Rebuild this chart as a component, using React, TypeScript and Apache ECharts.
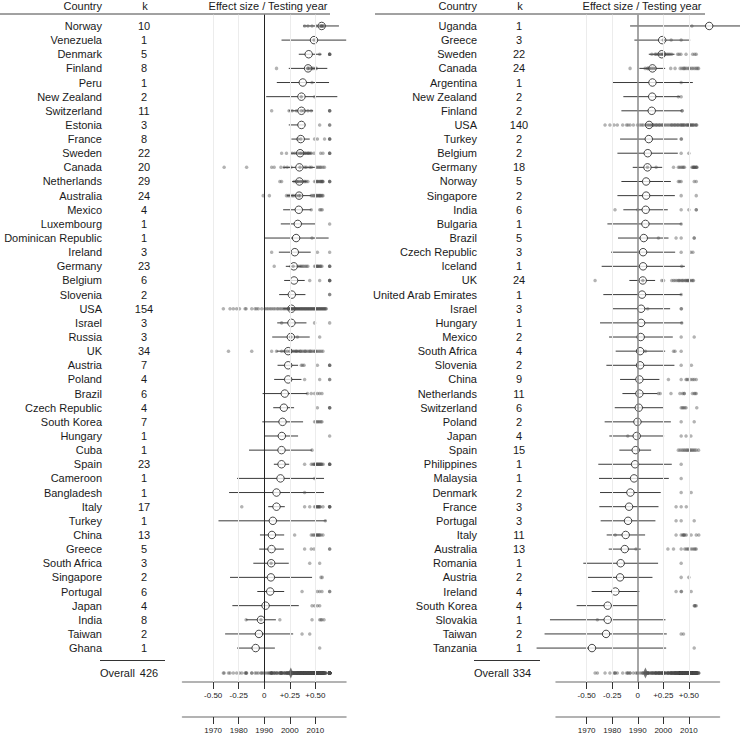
import React, { useEffect, useRef } from "react";
import * as echarts from "echarts";

const FONT = '"Liberation Sans", Arial, Helvetica, sans-serif';

// ---------- LEFT PANEL ----------
const leftCountries = ["Norway","Venezuela","Denmark","Finland","Peru","New Zealand","Switzerland","Estonia","France","Sweden","Canada","Netherlands","Australia","Mexico","Luxembourg","Dominican Republic","Ireland","Germany","Belgium","Slovenia","USA","Israel","Russia","UK","Austria","Poland","Brazil","Czech Republic","South Korea","Hungary","Cuba","Spain","Cameroon","Bangladesh","Italy","Turkey","China","Greece","South Africa","Singapore","Portugal","Japan","India","Taiwan","Ghana"];
const leftK = [10,1,5,8,1,2,11,3,8,22,20,29,24,4,1,1,3,23,6,2,154,3,3,34,7,4,6,4,7,1,1,23,1,1,17,1,13,5,3,2,6,4,8,2,1];
const leftEst = [0.562,0.487,0.435,0.429,0.377,0.364,0.364,0.364,0.357,0.351,0.344,0.344,0.341,0.338,0.328,0.312,0.299,0.289,0.292,0.27,0.266,0.266,0.26,0.234,0.234,0.234,0.201,0.192,0.179,0.172,0.169,0.169,0.159,0.12,0.12,0.084,0.075,0.071,0.068,0.065,0.058,0.013,-0.032,-0.052,-0.084];
const leftLo = [0.38,0.169,0.338,0.24,0.123,0.019,0.24,0.24,0.266,0.26,0.185,0.273,0.221,0.185,0.162,0.0,0.143,0.211,0.195,0.146,0.185,0.127,0.078,0.12,0.13,0.097,-0.016,0.088,-0.019,0.006,-0.149,0.094,-0.266,-0.344,0.039,-0.448,-0.042,-0.049,-0.107,-0.335,-0.068,-0.312,-0.179,-0.383,-0.266];
const leftHi = [0.731,0.802,0.559,0.617,0.634,0.715,0.478,0.403,0.445,0.461,0.494,0.413,0.461,0.461,0.5,0.63,0.455,0.364,0.396,0.403,0.348,0.413,0.445,0.348,0.331,0.364,0.422,0.292,0.38,0.331,0.468,0.244,0.585,0.585,0.201,0.608,0.195,0.192,0.24,0.468,0.195,0.338,0.114,0.283,0.104];
const leftYears = [
  [2005.8,2007.1,2008.7,2010.4,2011.7,2012.5,2012.5,2013.0,2013.3,2012.2],
  [2009.5],
  [2011.7,2015.6,2015.6,2015.6,2015.6],
  [1994.8,2007.1,2007.1,2007.8,2008.6,2009.1,2010.0,2010.4],
  [2008.7],
  [2004.5,2009.7],
  [1992.9,1999.7,2000.9,2002.6,2004.5,2005.5,2007.1,2008.4,2015.6,2015.6,2015.6],
  [2011.7,2015.6,2015.6],
  [2003.2,2004.3,2009.7,2010.8,2013.6,2015.6,2015.6,2015.6],
  [1996.8,1998.7,2000.9,2001.9,2003.2,2004.5,2005.2,2005.8,2006.5,2007.0,2007.5,2008.0,2008.4,2009.5,2012.1,2013.0,2015.6,2015.6,2015.6,2006.0,2007.2,2004.0],
  [1974.3,1983.1,1992.9,1993.9,1996.5,1997.8,2000.5,2006.5,2007.8,2008.5,2010.4,2011.4,2011.9,2012.3,2013.0,2013.6,2005.9,2004.0,2010.9,1999.0],
  [1996.1,1996.8,2001.7,2002.6,2003.3,2004.0,2005.0,2005.8,2006.5,2007.1,2009.7,2010.3,2010.8,2011.4,2012.0,2012.3,2012.7,2013.0,2015.6,2015.6,2015.6,2011.0,2012.5,2010.5,2006.0,2004.5,2003.0,2011.8,2012.9],
  [1989.6,1992.0,1998.7,1999.4,2000.0,2000.9,2001.5,2002.5,2003.5,2004.0,2008.4,2009.0,2009.5,2010.0,2010.4,2010.9,2011.3,2011.8,2012.3,2012.7,2013.0,2010.6,2011.5,2012.0],
  [2008.4,2011.7,2012.7,2012.2],
  [2015.6],
  [2008.7],
  [1992.9,2010.8,2015.6],
  [1993.9,2001.3,2003.2,2004.5,2005.0,2006.1,2007.1,2006.6,2009.7,2010.2,2010.8,2011.2,2011.7,2012.2,2012.6,2015.6,2015.6,2015.6,2011.0,2011.9,2005.5,2004.0,2010.5],
  [2007.8,2011.7,2015.6,2015.6,2015.6,2015.6],
  [2015.6,2015.6],
  [1974.0,1976.6,1977.9,1979.2,1980.3,1982.5,1982.9,1985.1,1986.4,1987.0,1987.7,1989.0,1990.3,1991.0,1991.6,1992.3,1992.9,1993.6,1994.2,1995.0,1995.5,1996.2,1996.8,1997.5,1998.0,1998.6,1999.2,1999.8,2000.3,2000.8,2001.3,2001.8,2002.3,2002.8,2003.3,2003.8,2004.3,2004.8,2005.3,2005.8,2006.3,2006.8,2007.3,2007.8,2008.3,2008.8,2009.3,2009.8,2010.3,2010.8,2011.3,2011.8,2012.3,2012.8,2013.3,2013.8,2014.3,1999.5,2000.5,2001.5,2002.5,2003.5,2004.5,2005.5,2006.5,2007.5,2008.5,2009.5,2010.5,2011.5,2012.5,2013.5,2001.0,2003.0,2005.0,2007.0,2009.0,2011.0,2013.0,2000.0,2002.0,2004.0,2006.0,2008.0,2010.0,2012.0,2014.0],
  [1996.8,2009.7,2015.6],
  [2000.4,2003.0,2011.7],
  [1976.0,1985.1,1992.9,1994.8,1996.8,1998.0,1999.0,2000.0,2001.0,2001.6,2002.2,2002.8,2003.4,2004.0,2004.6,2005.2,2005.8,2006.4,2007.0,2007.6,2008.2,2008.8,2009.4,2010.0,2010.6,2011.2,2011.8,2012.4,2013.0,2006.0,2008.0,2010.0,2004.2,2002.5],
  [2004.5,2005.0,2005.6,2010.8,2015.6,2015.6,2015.6],
  [2005.8,2011.7,2015.6,2015.6],
  [2006.9,2008.4,2009.7,2010.8,2011.7,2012.6],
  [2010.8,2015.6,2015.6,2015.6],
  [2009.7,2010.3,2010.8,2011.2,2011.7,2012.2,2012.6],
  [2015.6],
  [2008.7],
  [2005.8,2008.4,2009.0,2009.5,2010.0,2010.4,2010.9,2011.3,2011.7,2012.1,2012.6,2013.1,2015.6,2015.6,2015.6,2010.2,2011.0,2011.5,2012.0,2009.7,2010.7,2012.4,2015.6],
  [2009.7],
  [2005.8],
  [1981.2,2005.8,2007.8,2009.7,2010.2,2010.8,2011.2,2011.7,2013.0,2015.6,2015.6,2015.6,2010.5,2011.0,2011.5,2012.0,2015.6],
  [2013.9],
  [2001.9,2008.4,2009.0,2009.5,2010.0,2010.4,2010.9,2011.3,2011.8,2012.3,2013.0,2010.7,2011.5],
  [2005.8,2008.4,2009.5,2015.6,2015.6],
  [1992.7,2007.8,2011.7],
  [2012.7,2012.2],
  [2004.8,2010.8,2011.7,2012.6,2015.6,2015.6],
  [2008.7,2009.7,2010.8,2011.7],
  [1982.9,1988.7,1996.1,2008.7,2011.7,2012.6,2013.4,2012.2],
  [2004.8,2007.8],
  [2011.7]
];
const leftOverallK = 426;
const leftOverallEst = 0.26;

// ---------- RIGHT PANEL ----------
const rightCountries = ["Uganda","Greece","Sweden","Canada","Argentina","New Zealand","Finland","USA","Turkey","Belgium","Germany","Norway","Singapore","India","Bulgaria","Brazil","Czech Republic","Iceland","UK","United Arab Emirates","Israel","Hungary","Mexico","South Africa","Slovenia","China","Netherlands","Switzerland","Poland","Japan","Spain","Philippines","Malaysia","Denmark","France","Portugal","Italy","Australia","Romania","Austria","Ireland","South Korea","Slovakia","Taiwan","Tanzania"];
const rightK = [1,3,22,24,1,2,2,140,2,2,18,5,2,6,1,5,3,1,24,1,3,1,2,4,2,9,11,6,2,4,15,1,1,2,3,3,11,13,1,2,4,4,1,2,1];
const rightEst = [0.699,0.239,0.235,0.144,0.144,0.141,0.137,0.111,0.108,0.098,0.095,0.082,0.082,0.078,0.075,0.059,0.052,0.052,0.049,0.042,0.033,0.033,0.029,0.023,0.023,0.016,0.016,0.01,-0.003,-0.01,-0.02,-0.026,-0.036,-0.072,-0.085,-0.095,-0.118,-0.127,-0.167,-0.173,-0.219,-0.294,-0.294,-0.31,-0.448];
const rightLo = [-0.075,-0.033,0.108,0.016,-0.252,-0.141,-0.16,0.08,-0.173,-0.199,-0.049,-0.16,-0.199,-0.141,-0.297,-0.193,-0.261,-0.353,-0.082,-0.337,-0.248,-0.369,-0.281,-0.216,-0.307,-0.173,-0.15,-0.225,-0.324,-0.278,-0.18,-0.386,-0.379,-0.369,-0.376,-0.363,-0.304,-0.284,-0.533,-0.487,-0.451,-0.598,-0.859,-0.912,-0.99];
const rightHi = [1.03,0.513,0.36,0.268,0.539,0.415,0.431,0.14,0.389,0.392,0.239,0.324,0.363,0.294,0.431,0.301,0.366,0.461,0.17,0.431,0.317,0.441,0.343,0.268,0.359,0.212,0.193,0.252,0.324,0.258,0.131,0.333,0.304,0.225,0.203,0.173,0.072,0.029,0.199,0.144,0.016,0.0,0.271,0.284,0.278];
const rightYears = [
  [2011.2],
  [2000.0,2003.1,2007.0],
  [1995.5,1996.8,1997.2,1998.0,1998.5,1999.0,1999.6,2000.2,2000.8,2001.5,2002.0,2002.6,2003.3,2005.6,2006.2,2006.9,2008.9,2011.5,2012.3,2012.9,2000.4,1999.8],
  [1987.0,1992.9,1993.8,1994.5,1995.2,1996.0,1996.8,2002.9,2004.6,2006.6,2007.3,2007.9,2008.6,2009.2,2009.9,2010.3,2011.0,2011.6,2012.3,2012.9,2013.4,2013.8,1994.0,2008.2],
  [2007.0],
  [2005.9,2007.0],
  [2007.3,2007.4],
  [1977.2,1979.1,1980.7,1982.0,1984.1,1985.6,1986.2,1987.0,1988.3,1989.9,1990.9,1991.6,1992.2,1993.3,1994.0,1994.6,1995.2,1995.8,1996.4,1997.0,1997.6,1998.2,1998.8,1999.4,2000.0,2000.6,2001.2,2001.8,2002.4,2003.0,2003.6,2004.2,2004.8,2005.4,2006.0,2006.6,2007.2,2007.8,2008.4,2009.0,2009.6,2010.2,2010.8,2011.4,2012.0,2012.6,2013.1,2003.3,2004.5,2005.7,2006.9,2008.1,2009.3,2010.5,2011.7,2012.9,2007.5,2009.9,2011.1,1996.0,1997.3,1998.5,1999.7],
  [2007.0,2007.1],
  [2007.0,2010.0],
  [1993.8,1997.2,2004.0,2005.9,2006.4,2007.0,2007.5,2007.9,2008.3,2011.2,2011.6,2012.1,2012.1,2012.5,2012.9,2012.9,2013.2,2011.8],
  [2005.9,2006.4,2007.0,2012.1,2012.9],
  [2007.0,2012.9],
  [1981.1,1990.0,2007.0,2010.0,2012.9,2012.9],
  [2007.0],
  [1998.1,2005.0,2007.0,2012.1,2012.1],
  [2007.0,2010.8,2011.6],
  [2007.2],
  [1973.3,1992.0,1999.4,2000.1,2003.3,2004.0,2004.6,2005.3,2005.9,2006.6,2007.2,2007.9,2008.5,2009.2,2009.8,2010.5,2011.1,2011.8,2006.2,2007.5,2008.8,2010.0,2009.5,2011.5],
  [2007.0],
  [1993.9,2007.0,2007.1],
  [2007.2],
  [2007.0,2012.1],
  [1993.0,2004.0,2004.6,2007.0],
  [2007.0,2011.0],
  [2002.0,2007.0,2008.9,2009.8,2010.8,2012.1,2012.9,2011.5,2009.3],
  [1998.1,1998.8,2003.0,2006.5,2007.5,2008.2,2011.4,2012.1,2012.9,2008.2,2012.5],
  [2007.0,2007.9,2008.9,2013.1,2007.5,2008.4],
  [2007.0,2012.1],
  [1986.1,2007.0,2008.9,2010.8],
  [2005.9,2006.6,2007.3,2007.9,2008.4,2009.0,2009.4,2009.9,2010.4,2010.8,2011.3,2011.8,2012.3,2012.9,2013.8],
  [2007.0],
  [2007.0],
  [2007.0,2010.9],
  [2005.0,2007.0,2009.0],
  [2005.0,2007.0,2012.1],
  [1981.2,2005.0,2007.0,2007.6,2007.9,2008.4,2009.0,2010.9,2012.9,2013.9,2008.1],
  [1989.3,2001.8,2004.0,2007.0,2008.4,2009.0,2009.5,2009.9,2010.9,2011.5,2012.1,2012.9,2012.5],
  [2007.0],
  [2007.0,2010.0],
  [2005.0,2007.0,2007.1,2010.9],
  [2012.1,2012.5,2012.9,2012.3],
  [1974.2],
  [2007.0,2007.9],
  [2012.1]
];
const rightOverallK = 334;
const rightOverallEst = 0.075;

// ---------- AXES ----------
const effectTicks = [-0.5, -0.25, 0, 0.25, 0.5];
const effectTickLabels = ["-0.50", "-0.25", "0", "+0.25", "+0.50"];
const yearTicks = [1970, 1980, 1990, 2000, 2010];
const headerTexts = ["Country", "k", "Effect size / Testing year"];

const OVERALL_ROW = 45.76;
const Y_MIN = -0.8;
const Y_MAX = 46.4;

function effLabel(v: number) {
  let best = 0;
  for (let i = 0; i < effectTicks.length; i++) {
    if (Math.abs(effectTicks[i] - v) < Math.abs(effectTicks[best] - v)) best = i;
  }
  return effectTickLabels[best];
}

function effAxis(gi: number) {
  return {
    type: "value", gridIndex: gi, min: -0.8, max: 0.8, position: "bottom",
    axisLine: { show: true, onZero: false, lineStyle: { color: "#9a9a9a", width: 1.5 } },
    axisTick: { show: true, customValues: effectTicks, length: 7, lineStyle: { color: "#333", width: 1 } },
    axisLabel: { show: true, customValues: effectTicks, formatter: (v: number) => effLabel(v), fontSize: 8, color: "#222", margin: 9, fontFamily: FONT },
    splitLine: { show: false },
  };
}
function yearAxis(gi: number) {
  return {
    type: "value", gridIndex: gi, min: 1958, max: 2022, position: "bottom", offset: 35,
    axisLine: { show: true, onZero: false, lineStyle: { color: "#9a9a9a", width: 1.5 } },
    axisTick: { show: true, customValues: yearTicks, length: 7, lineStyle: { color: "#333", width: 1 } },
    axisLabel: { show: true, customValues: yearTicks, formatter: (v: number) => String(Math.round(v)), fontSize: 8, color: "#222", margin: 9, fontFamily: FONT },
    splitLine: { show: false },
  };
}

function panelSeries(p: any) {
  const { names, ks, est, lo, hi, years, overallK, overallEst, ex, yx, yi, nameRight, kCenter, overallLeft, overallKCenter, sepX1, sepX2, zeroColor, zeroWidth } = p;
  const n = names.length;
  const ciData = est.map((_: number, i: number) => [lo[i], hi[i], i]);
  const estData = est.map((v: number, i: number) => [v, i]);
  const dotData: number[][] = [];
  const allYears: number[] = [];
  years.forEach((row: number[], i: number) => row.forEach((y) => { dotData.push([y, i]); allYears.push(y); }));
  allYears.forEach((y) => dotData.push([y, OVERALL_ROW]));
  const labelData = names.map((_: string, i: number) => [0, i]).concat([[0, OVERALL_ROW]]);
  const txt = (text: string, x: number, y: number, align: string) => ({
    type: "text", x, y, silent: true,
    style: { text, align, verticalAlign: "middle", fontSize: 11, fontFamily: FONT, fill: "#1a1a1a" },
  });
  return [
    {
      type: "scatter", xAxisIndex: ex, yAxisIndex: yi, z: 1, silent: true,
      data: [[0, -5]], symbolSize: 0,
      markLine: {
        silent: true, symbol: ["none", "none"], label: { show: false },
        data: [
          { xAxis: -0.5, lineStyle: { color: "#ececec", width: 1, type: "solid" } },
          { xAxis: -0.25, lineStyle: { color: "#ececec", width: 1, type: "solid" } },
          { xAxis: 0.25, lineStyle: { color: "#ececec", width: 1, type: "solid" } },
          { xAxis: 0.5, lineStyle: { color: "#ececec", width: 1, type: "solid" } },
          { xAxis: 0, lineStyle: { color: zeroColor, width: zeroWidth, type: "solid" } },
        ],
      },
    },
    {
      type: "custom", xAxisIndex: ex, yAxisIndex: yi, z: 2, silent: true, clip: false,
      data: ciData,
      renderItem: (params: any, api: any) => {
        const a = api.coord([api.value(0), api.value(2)]);
        const b = api.coord([api.value(1), api.value(2)]);
        return { type: "line", shape: { x1: a[0], y1: a[1], x2: b[0], y2: b[1] }, style: { stroke: "#3a3a3a", lineWidth: 1 } };
      },
    },
    {
      type: "scatter", xAxisIndex: ex, yAxisIndex: yi, z: 3, silent: true,
      data: estData, symbol: "circle", symbolSize: 7.5,
      itemStyle: { color: "#ffffff", borderColor: "#1a1a1a", borderWidth: 1 },
    },
    {
      type: "scatter", xAxisIndex: yx, yAxisIndex: yi, z: 4, silent: true,
      data: dotData, symbol: "circle", symbolSize: 3.5,
      itemStyle: { color: "#4a4a4a", opacity: 0.42 },
    },
    {
      type: "scatter", xAxisIndex: ex, yAxisIndex: yi, z: 5, silent: true,
      data: [[overallEst, OVERALL_ROW]], symbol: "diamond", symbolSize: [5, 11],
      itemStyle: { color: "#555555" },
    },
    {
      type: "custom", xAxisIndex: ex, yAxisIndex: yi, z: 6, silent: true, clip: false,
      data: labelData,
      renderItem: (params: any, api: any) => {
        const i = params.dataIndex;
        const y = api.coord([0, api.value(1)])[1];
        if (i < n) {
          return { type: "group", children: [txt(names[i], nameRight, y, "right"), txt(String(ks[i]), kCenter, y, "center")] };
        }
        const yPrev = api.coord([0, n - 1])[1];
        const ySep = (yPrev + y) / 2;
        return {
          type: "group",
          children: [
            txt("Overall", overallLeft, y, "left"),
            txt(String(overallK), overallKCenter, y, "center"),
            { type: "line", silent: true, shape: { x1: sepX1, y1: ySep, x2: sepX2, y2: ySep }, style: { stroke: "#333", lineWidth: 1 } },
          ],
        };
      },
    },
  ];
}

export default function App() {
  const ref = useRef<HTMLDivElement>(null);
  useEffect(() => {
    if (!ref.current) return;
    const chart = echarts.init(ref.current, null, { renderer: "svg" });
    const gridTop = 26 + Y_MIN * 14.18;
    const gridH = (Y_MAX - Y_MIN) * 14.18;
    const hdr = (text: string, x: number, align: string) => ({
      type: "text", x, y: 6, silent: true,
      style: { text, align, verticalAlign: "middle", fontSize: 11, fontFamily: FONT, fill: "#1a1a1a" },
    });
    const option: any = {
      animation: false,
      backgroundColor: "#ffffff",
      grid: [
        { left: 182.5, top: gridTop, width: 163.5, height: gridH },
        { left: 556, top: gridTop, width: 163.5, height: gridH },
      ],
      xAxis: [effAxis(0), effAxis(1), yearAxis(0), yearAxis(1)],
      yAxis: [
        { type: "value", gridIndex: 0, inverse: true, min: Y_MIN, max: Y_MAX, show: false },
        { type: "value", gridIndex: 1, inverse: true, min: Y_MIN, max: Y_MAX, show: false },
      ],
      graphic: [
        hdr(headerTexts[0], 102, "right"),
        hdr(headerTexts[1], 145, "center"),
        hdr(headerTexts[2], 268, "center"),
        hdr(headerTexts[0], 477, "right"),
        hdr(headerTexts[1], 520, "center"),
        hdr(headerTexts[2], 642, "center"),
        { type: "line", silent: true, shape: { x1: 0, y1: 14, x2: 330, y2: 14 }, style: { stroke: "#444", lineWidth: 1 } },
        { type: "line", silent: true, shape: { x1: 375, y1: 14, x2: 705, y2: 14 }, style: { stroke: "#444", lineWidth: 1 } },
      ],
      series: [
        ...panelSeries({
          names: leftCountries, ks: leftK, est: leftEst, lo: leftLo, hi: leftHi, years: leftYears,
          overallK: leftOverallK, overallEst: leftOverallEst, ex: 0, yx: 2, yi: 0,
          nameRight: 102, kCenter: 144, overallLeft: 100, overallKCenter: 149, sepX1: 100, sepX2: 165,
          zeroColor: "#222", zeroWidth: 1,
        }),
        ...panelSeries({
          names: rightCountries, ks: rightK, est: rightEst, lo: rightLo, hi: rightHi, years: rightYears,
          overallK: rightOverallK, overallEst: rightOverallEst, ex: 1, yx: 3, yi: 1,
          nameRight: 477, kCenter: 519, overallLeft: 474, overallKCenter: 522, sepX1: 474, sepX2: 540,
          zeroColor: "#888", zeroWidth: 1.5,
        }),
      ],
    };
    chart.setOption(option);
    return () => chart.dispose();
  }, []);
  return <div ref={ref} style={{ position: "absolute", left: 0, top: 0, width: 740, height: 734, background: "#fff" }} />;
}
